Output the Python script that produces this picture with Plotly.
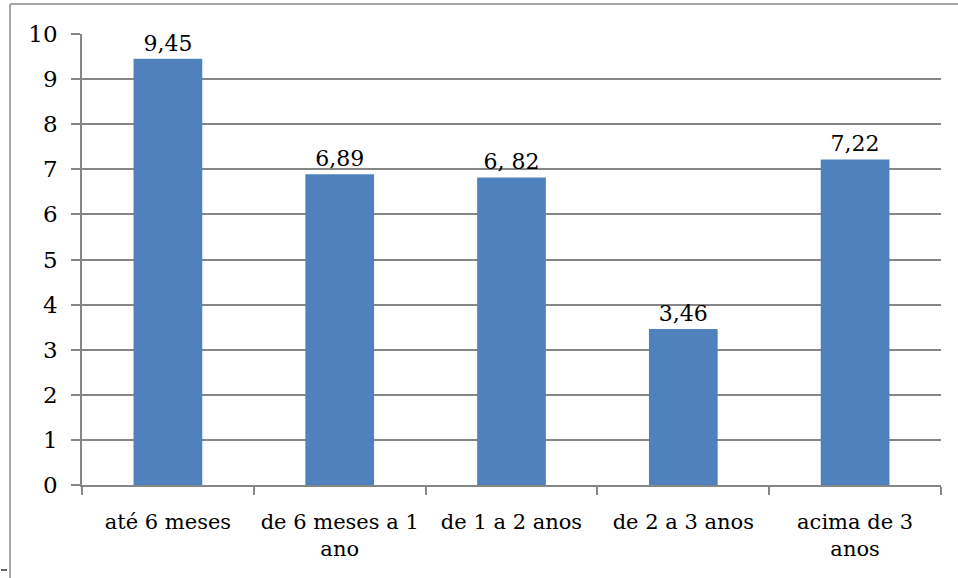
import plotly.graph_objects as go

categories = ["até 6 meses", "de 6 meses a 1<br>ano", "de 1 a 2 anos", "de 2 a 3 anos", "acima de 3<br>anos"]
values = [9.45, 6.89, 6.82, 3.46, 7.22]
labels = ["9,45", "6,89", "6, 82", "3,46", "7,22"]
y_ticks = list(range(0, 11))

W, H = 958, 578
L, R, T, B = 82, 17, 34, 93
pw, ph = W - L - R, H - T - B

font = "DejaVu Serif"
fs = 21

fig = go.Figure(go.Bar(
    x=categories, y=values, text=labels, textposition="outside",
    textfont=dict(family=font, size=22, color="#000000"),
    marker=dict(color="#4F81BD", line=dict(width=0)),
    width=0.4, cliponaxis=False,
))

fig.update_layout(
    width=W, height=H,
    margin=dict(l=L, r=R, t=T, b=B),
    paper_bgcolor="white", plot_bgcolor="white",
    showlegend=False,
    font=dict(family=font, size=fs, color="#000000"),
    xaxis=dict(
        showline=True, linecolor="#868686", linewidth=1.5,
        ticks="outside", tickson="boundaries", ticklen=8, tickcolor="#868686", tickwidth=1.5,
        showgrid=False, tickfont=dict(family=font, size=fs, color="#000000"), automargin=False,
        ticklabelstandoff=17, tickangle=0,
    ),
    yaxis=dict(
        range=[0, 10], tickvals=y_ticks, showline=True, linecolor="#868686", linewidth=1.5,
        ticks="outside", ticklen=9, tickcolor="#868686", tickwidth=1.5,
        showgrid=True, gridcolor="#868686", gridwidth=1.5, zeroline=False,
        tickfont=dict(family=font, size=23, color="#000000"), automargin=False,
        ticklabelstandoff=9,
    ),
)

# outer chart frame (partially clipped at right/bottom)
x0 = (10 - L) / pw
ytop = 1 + (T - 4) / ph
fig.add_shape(type="line", xref="paper", yref="paper", x0=x0, x1=1 + (R + 5) / pw, y0=ytop, y1=ytop,
              line=dict(color="#A6A6A6", width=2))
fig.add_shape(type="line", xref="paper", yref="paper", x0=x0, x1=x0, y0=ytop, y1=-(B + 5) / ph,
              line=dict(color="#A6A6A6", width=2))
# small dash at bottom-left corner
yd = -(570 - (H - B)) / ph
fig.add_shape(type="line", xref="paper", yref="paper", x0=(1 - L) / pw, x1=(7 - L) / pw, y0=yd, y1=yd,
              line=dict(color="#333333", width=1.5))

fig.write_html("out.html", config={"displayModeBar": False},
               post_script="document.body.style.margin='0px';document.body.style.overflow='hidden';")
